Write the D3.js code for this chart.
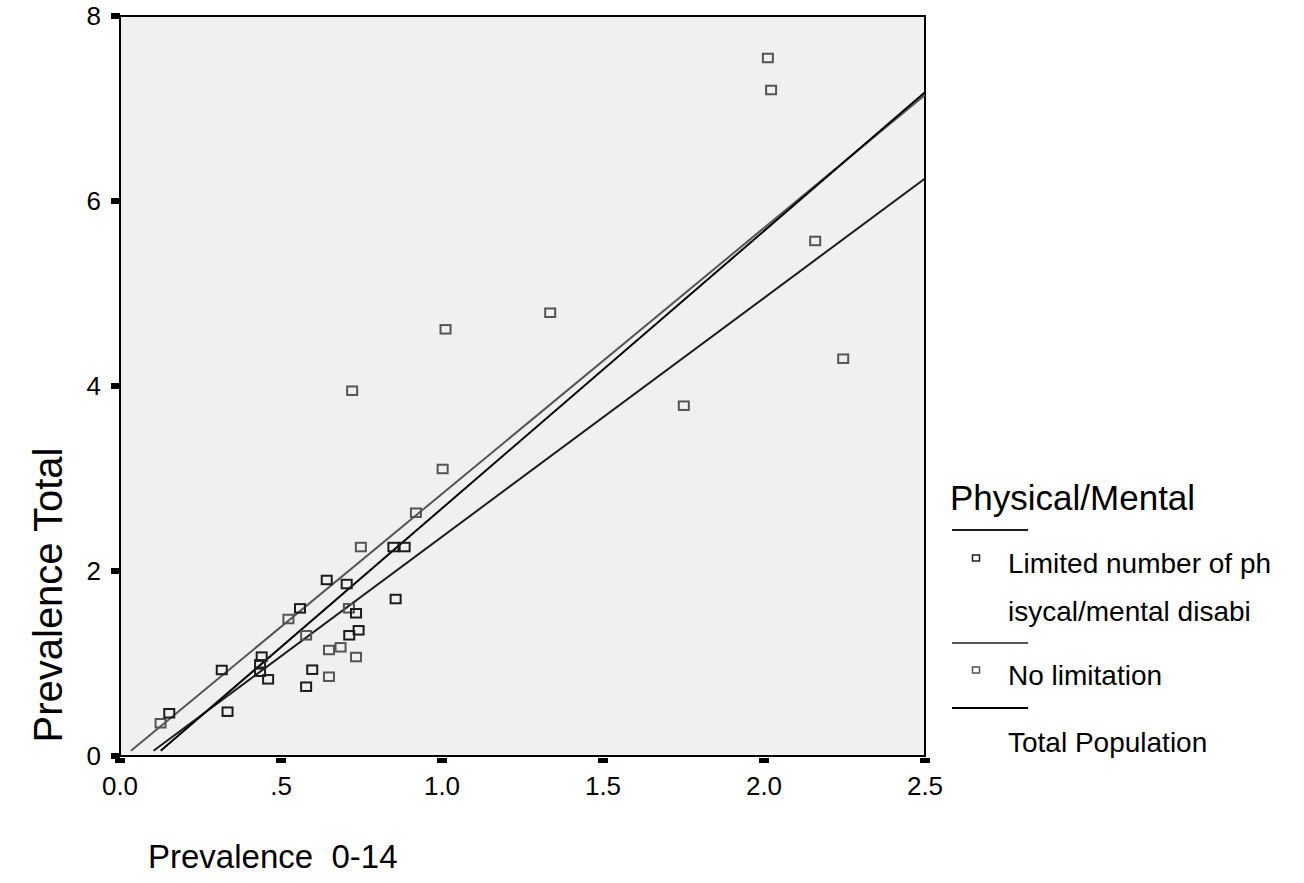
<!DOCTYPE html>
<html>
<head>
<meta charset="utf-8">
<script src="https://cdn.jsdelivr.net/npm/d3@7"></script>
<style>
  html, body { margin: 0; padding: 0; background: #ffffff; }
  svg { display: block; font-family: "Liberation Sans", Arial, sans-serif; }
</style>
</head>
<body>
<svg id="chart" width="1304" height="883"></svg>
<script>
// Prevalence 0-14 (x) against Prevalence Total (y), split by limitation group
const limitedX = [0.316, 0.153, 0.334, 0.440, 0.435, 0.435, 0.460, 0.642, 0.704, 0.559,
                  0.733, 0.856, 0.741, 0.712, 0.597, 0.578, 0.849, 0.884];
const limitedY = [0.930, 0.462, 0.479, 1.074, 0.991, 0.911, 0.829, 1.903, 1.859, 1.596,
                  1.543, 1.697, 1.359, 1.305, 0.933, 0.749, 2.259, 2.259];

const noLimitX = [0.126, 0.523, 0.711, 0.578, 0.649, 0.685, 0.733, 0.649, 1.002, 0.919,
                  0.748, 1.011, 1.336, 0.721, 2.159, 2.246, 1.751, 2.012, 2.022];
const noLimitY = [0.354, 1.481, 1.597, 1.305, 1.146, 1.175, 1.070, 0.857, 3.103, 2.630,
                  2.259, 4.613, 4.792, 3.949, 5.568, 4.295, 3.787, 7.546, 7.200];

// Linear fit lines: Limited, No limitation, Total Population
const fitNames = ["Limited", "No limitation", "Total Population"];
const fitSlopes = [2.582, 2.875, 2.999];
const fitIntercepts = [-0.212, -0.041, -0.322];
const fitFloor = 0.057;

const xTicks = [0, 0.5, 1.0, 1.5, 2.0, 2.5];
const xTickLabels = ["0.0", ".5", "1.0", "1.5", "2.0", "2.5"];
const yTicks = [0, 2, 4, 6, 8];
const yTickLabels = ["0", "2", "4", "6", "8"];

const legendTitle = "Physical/Mental";
const legendLabels = [["Limited number of ph", "isycal/mental disabi"], ["No limitation"], ["Total Population"]];

const colBlack = "#1c1c1c";
const colGray = "#555555";
const fitColors = [colBlack, colGray, "#000000"];

const svg = d3.select("#chart");
const plotL = 120, plotR = 925, plotT = 16, plotB = 756;

const x = d3.scaleLinear().domain([0, 2.5]).range([plotL, plotR]);
const y = d3.scaleLinear().domain([0, 8]).range([plotB, plotT]);

// plot background and frame
svg.append("rect")
  .attr("x", plotL).attr("y", plotT)
  .attr("width", plotR - plotL).attr("height", plotB - plotT)
  .attr("fill", "#f0f0f0").attr("stroke", "#000").attr("stroke-width", 2);

// tick marks as small solid blocks outside the frame
svg.append("g").selectAll("rect").data(xTicks).join("rect")
  .attr("x", d => x(d) - 5).attr("y", plotB + 2)
  .attr("width", 10).attr("height", 5).attr("fill", "#000");
svg.append("g").selectAll("rect").data(yTicks).join("rect")
  .attr("x", plotL - 9).attr("y", d => y(d) - 3)
  .attr("width", 9).attr("height", 6).attr("fill", "#000");

// tick labels
svg.append("g").selectAll("text").data(xTicks).join("text")
  .attr("x", d => x(d)).attr("y", 795)
  .attr("text-anchor", "middle").attr("font-size", 26)
  .text((d, i) => xTickLabels[i]);
svg.append("g").selectAll("text").data(yTicks).join("text")
  .attr("x", 101).attr("y", d => y(d) + 9)
  .attr("text-anchor", "end").attr("font-size", 26)
  .text((d, i) => yTickLabels[i]);

// axis titles
svg.append("text")
  .attr("x", 148).attr("y", 868)
  .attr("font-size", 33).attr("xml:space", "preserve")
  .text("Prevalence  0-14");
svg.append("text")
  .attr("transform", "translate(62,595) rotate(-90)")
  .attr("text-anchor", "middle").attr("font-size", 40)
  .text("Prevalence Total");

// fit lines, clipped to the plot frame
svg.append("clipPath").attr("id", "plotClip")
  .append("rect").attr("x", plotL).attr("y", plotT)
  .attr("width", plotR - plotL).attr("height", plotB - plotT);

const fitG = svg.append("g").attr("clip-path", "url(#plotClip)");
fitNames.forEach((name, i) => {
  const m = fitSlopes[i], b = fitIntercepts[i];
  const x0 = (fitFloor - b) / m, x1 = 2.5;
  fitG.append("line")
    .attr("x1", x(x0)).attr("y1", y(m * x0 + b))
    .attr("x2", x(x1)).attr("y2", y(m * x1 + b))
    .attr("stroke", fitColors[i]).attr("stroke-width", 2);
});

// scatter markers: open squares
function drawSquares(xs, ys, color) {
  svg.append("g").selectAll("rect").data(xs).join("rect")
    .attr("x", (d) => x(d) - 5)
    .attr("y", (d, i) => y(ys[i]) - 4.25)
    .attr("width", 10).attr("height", 8.5)
    .attr("fill", "none").attr("stroke", color).attr("stroke-width", 2);
}
drawSquares(noLimitX, noLimitY, colGray);
drawSquares(limitedX, limitedY, colBlack);

// legend
const lg = svg.append("g");
lg.append("text").attr("x", 950).attr("y", 510).attr("font-size", 35).text(legendTitle);

const rowLineY = [530, 643, 708];
const rowMarkY = [558, 670, null];
const rowTextY = [[573, 621], [685], [752]];
const markColors = [colBlack, colGray];
legendLabels.forEach((lines, i) => {
  lg.append("line")
    .attr("x1", 952).attr("x2", 1028)
    .attr("y1", rowLineY[i]).attr("y2", rowLineY[i])
    .attr("stroke", fitColors[i]).attr("stroke-width", 1.8);
  if (rowMarkY[i] !== null) {
    lg.append("rect")
      .attr("x", 972.5).attr("y", rowMarkY[i] - 3)
      .attr("width", 7).attr("height", 6)
      .attr("fill", "none").attr("stroke", markColors[i]).attr("stroke-width", 1.5);
  }
  lines.forEach((t, j) => {
    lg.append("text").attr("x", 1008).attr("y", rowTextY[i][j])
      .attr("font-size", 28).text(t);
  });
});
</script>
</body>
</html>
